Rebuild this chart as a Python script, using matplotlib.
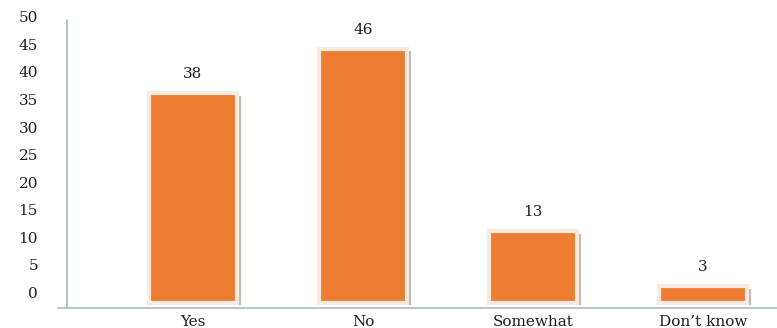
import matplotlib.pyplot as plt
import matplotlib.patheffects as pe
from matplotlib.transforms import ScaledTranslation

categories = ["Yes", "No", "Somewhat", "Don\u2019t know"]
values = [38, 46, 13, 3]
yticks = [0, 5, 10, 15, 20, 25, 30, 35, 40, 45, 50]

plt.rcParams['font.family'] = ['DejaVu Serif']
txt = '#1e1e1e'

fig = plt.figure(figsize=(7.77, 3.28), dpi=100)
ax = fig.add_axes([58 / 777, 20 / 328, 719 / 777, 288 / 328])

x = list(range(len(categories)))
bars = ax.bar(x, values, width=0.52, color='#ec7d31', edgecolor='#f6ebe3',
              linewidth=3, zorder=3)
for b in bars:
    b.set_path_effects([
        pe.SimplePatchShadow(offset=(2.4, -1.6), shadow_rgbFace='#b3a69d', alpha=0.8),
        pe.Normal(),
    ])

# value labels above the bars
for xi, v in zip(x, values):
    ax.annotate(str(v), (xi, v), xytext=(0, 9), textcoords='offset points',
                ha='center', va='bottom', fontsize=11, color=txt)

ax.set_xlim(-0.794, 3.435)
ax.set_ylim(-0.9, 51.3)
ax.set_xticks(x)
ax.set_xticklabels(categories, fontsize=11)
ax.tick_params(axis='x', length=0, pad=5, colors=txt)

# y labels drawn by hand, sitting a little above their grid positions
ax.set_yticks([])
shift = ScaledTranslation(-29 / 100, 9 / 100, fig.dpi_scale_trans)
for t in yticks:
    ax.text(9 / 719, t, str(t), transform=ax.get_yaxis_transform() + shift,
            ha='right', va='center', fontsize=11, color=txt)

for s in ['top', 'right']:
    ax.spines[s].set_visible(False)
ax.spines['left'].set_position(('axes', 9 / 719))
ax.spines['left'].set_color('#a3b8c9')
ax.spines['bottom'].set_color('#a8bccb')
ax.spines['left'].set_linewidth(1.2)
ax.spines['bottom'].set_linewidth(1.2)

fig.savefig('out.png', dpi=100)
